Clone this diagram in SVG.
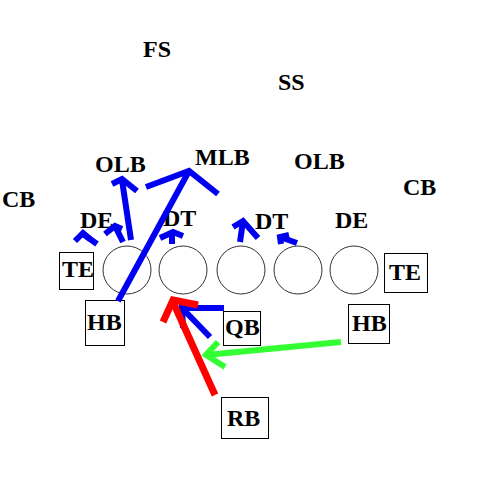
<svg xmlns="http://www.w3.org/2000/svg" width="480" height="480" viewBox="0 0 480 480">
<style>
text{font-family:"Liberation Serif","Times New Roman",serif;font-weight:bold;font-size:24px;fill:#000}
.box{fill:#fff;stroke:#000;stroke-width:1}
.lin{fill:none;stroke:#333;stroke-width:1}
.b{fill:none;stroke:#0000f0;stroke-width:6;stroke-linecap:butt;stroke-linejoin:miter}
.r{fill:none;stroke:#ff0000;stroke-width:7}
.g{fill:none;stroke:#33ff33;stroke-width:6}
</style>
<rect width="480" height="480" fill="#fff"/>
<g id="defense">
<text x="143" y="57">FS</text>
<text x="278" y="90">SS</text>
<text x="95" y="172">OLB</text>
<text x="195" y="165">MLB</text>
<text x="294" y="169">OLB</text>
<text x="2" y="207">CB</text>
<text x="403" y="195">CB</text>
<text x="80" y="228">DE</text>
<text x="163" y="226">DT</text>
<text x="255" y="229">DT</text>
<text x="335" y="228">DE</text>
</g>
<g id="line">
<circle class="lin" cx="127" cy="270" r="24"/>
<circle class="lin" cx="183" cy="270" r="24"/>
<circle class="lin" cx="241" cy="270" r="24"/>
<circle class="lin" cx="298" cy="270" r="24"/>
<circle class="lin" cx="354" cy="270" r="24"/>
</g>
<g id="te-left"><rect class="box" x="59.5" y="252.5" width="34" height="37"/><text x="62" y="277">TE</text></g>
<g id="te-right"><rect class="box" x="384.5" y="253.5" width="43" height="39"/><text x="389" y="280">TE</text></g>
<g id="hb-left"><rect class="box" x="85.5" y="300.5" width="39" height="45"/><text x="87" y="330">HB</text></g>
<g id="qb"><rect class="box" x="223.5" y="311.5" width="37" height="34"/><text x="225" y="335">QB</text></g>
<g id="hb-right"><rect class="box" x="348.5" y="304.5" width="41" height="39"/><text x="352" y="331">HB</text></g>
<g id="rb"><rect class="box" x="221.5" y="397.5" width="47" height="41"/><text x="227" y="426">RB</text></g>
<g id="connectors">
<polyline class="b" points="118,301 189,171"/>
<polyline class="b" points="146,187 189,171 218,194"/>
<polyline class="b" points="131,240 122,180"/>
<polyline class="b" points="112,184 122,179 137,191"/>
<polyline class="b" points="75,241 83,233 90,239"/>
<polyline class="b" points="83,234 97,244"/>
<polyline class="b" points="105,234 115,226 122,229"/>
<polyline class="b" points="115,226 123,242"/>
<polyline class="b" points="160,238 173,232 183,236"/>
<polyline class="b" points="172,233 172,244"/>
<polyline class="b" points="233,227 243,221 258,238"/>
<polyline class="b" points="243,221 240,242"/>
<polyline class="b" points="289,235 280,237 281,244"/>
<polyline class="b" points="280,237 297,243"/>
<polyline class="b" points="224,308 182,308 183,328"/>
<polyline class="b" points="182,308 210,337"/>
<polyline class="r" points="215,395 173,302"/>
<polyline class="r" points="163,322 173,300 198,305"/>
<polyline class="g" points="341,342 206,355"/>
<polyline class="g" points="218,342 206,355 225,367"/>
</g>
</svg>
